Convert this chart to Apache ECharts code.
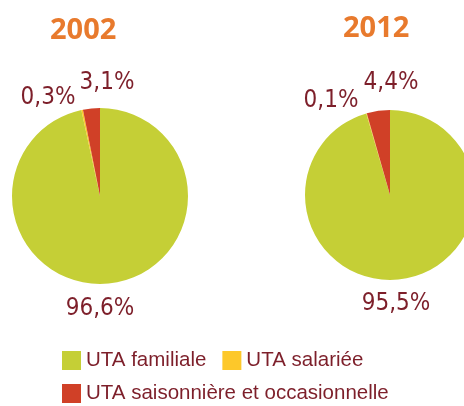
<!DOCTYPE html>
<html>
<head>
<meta charset="utf-8">
<script src="https://cdn.jsdelivr.net/npm/echarts@6/dist/echarts.min.js"></script>
<style>
html,body{margin:0;padding:0;background:#fff;}
#chart{width:464px;height:406px;}
</style>
</head>
<body>
<div id="chart"></div>
<script>
const categories = ['UTA familiale', 'UTA salariée', 'UTA saisonnière et occasionnelle'];
const years = ['2002', '2012'];
const values2002 = [96.6, 0.3, 3.1];
const values2012 = [95.5, 0.1, 4.4];

const colors = ['#c5cf36', '#fdc82a', '#d04027'];
const labelColor = '#7d1f2a';
const titleColor = '#e87a2d';
const labelFont = '"DejaVu Sans Condensed", "Liberation Sans", sans-serif';

const centers = [[100, 196], [390, 195]];
const radii = [88, 85];
// label offsets relative to each pie centre (style only)
const labelOffsets = [
  [[0, 113], [-52, -98], [7, -113]],
  [[6, 109], [-59, -94], [1, -112]]
];

function fmt(v) { return v.toFixed(1).replace('.', ',') + '%'; }

function makeSeries(idx, values) {
  return {
    type: 'pie',
    name: years[idx],
    center: centers[idx],
    radius: radii[idx],
    startAngle: 90,
    clockwise: true,
    animation: false,
    silent: true,
    avoidLabelOverlap: false,
    data: categories.map((c, i) => ({ name: c, value: values[i], itemStyle: { color: colors[i] } })),
    label: {
      show: true,
      position: 'outside',
      formatter: p => fmt(p.value),
      color: labelColor,
      fontFamily: labelFont,
      fontSize: 24,
      overflow: 'none'
    },
    labelLine: { show: false },
    labelLayout: function (params) {
      const off = labelOffsets[idx][params.dataIndex];
      return {
        x: centers[idx][0] + off[0],
        y: centers[idx][1] + off[1],
        align: 'center',
        verticalAlign: 'middle',
        hideOverlap: false,
        moveOverlap: null
      };
    }
  };
}

const legendText = { color: labelColor, fontSize: 20.5, fontFamily: '"Liberation Sans", sans-serif', padding: [8, 0, 0, 0] };

const chart = echarts.init(document.getElementById('chart'));
chart.setOption({
  animation: false,
  title: [
    { text: years[0], left: 50, top: 16, padding: 0,
      textStyle: { color: titleColor, fontSize: 29, fontWeight: 'bold', fontFamily: '"Open Sans", sans-serif' } },
    { text: years[1], left: 343, top: 14, padding: 0,
      textStyle: { color: titleColor, fontSize: 29, fontWeight: 'bold', fontFamily: '"Open Sans", sans-serif' } }
  ],
  legend: [
    { data: categories.slice(0, 2), left: 62, top: 350, padding: 0, itemWidth: 19, itemHeight: 19, itemGap: 16,
      icon: 'rect', selectedMode: false, textStyle: legendText },
    { data: categories.slice(2), left: 62, top: 383, padding: 0, itemWidth: 19, itemHeight: 19, itemGap: 16,
      icon: 'rect', selectedMode: false, textStyle: legendText }
  ],
  series: [makeSeries(0, values2002), makeSeries(1, values2012)]
});
</script>
</body>
</html>
